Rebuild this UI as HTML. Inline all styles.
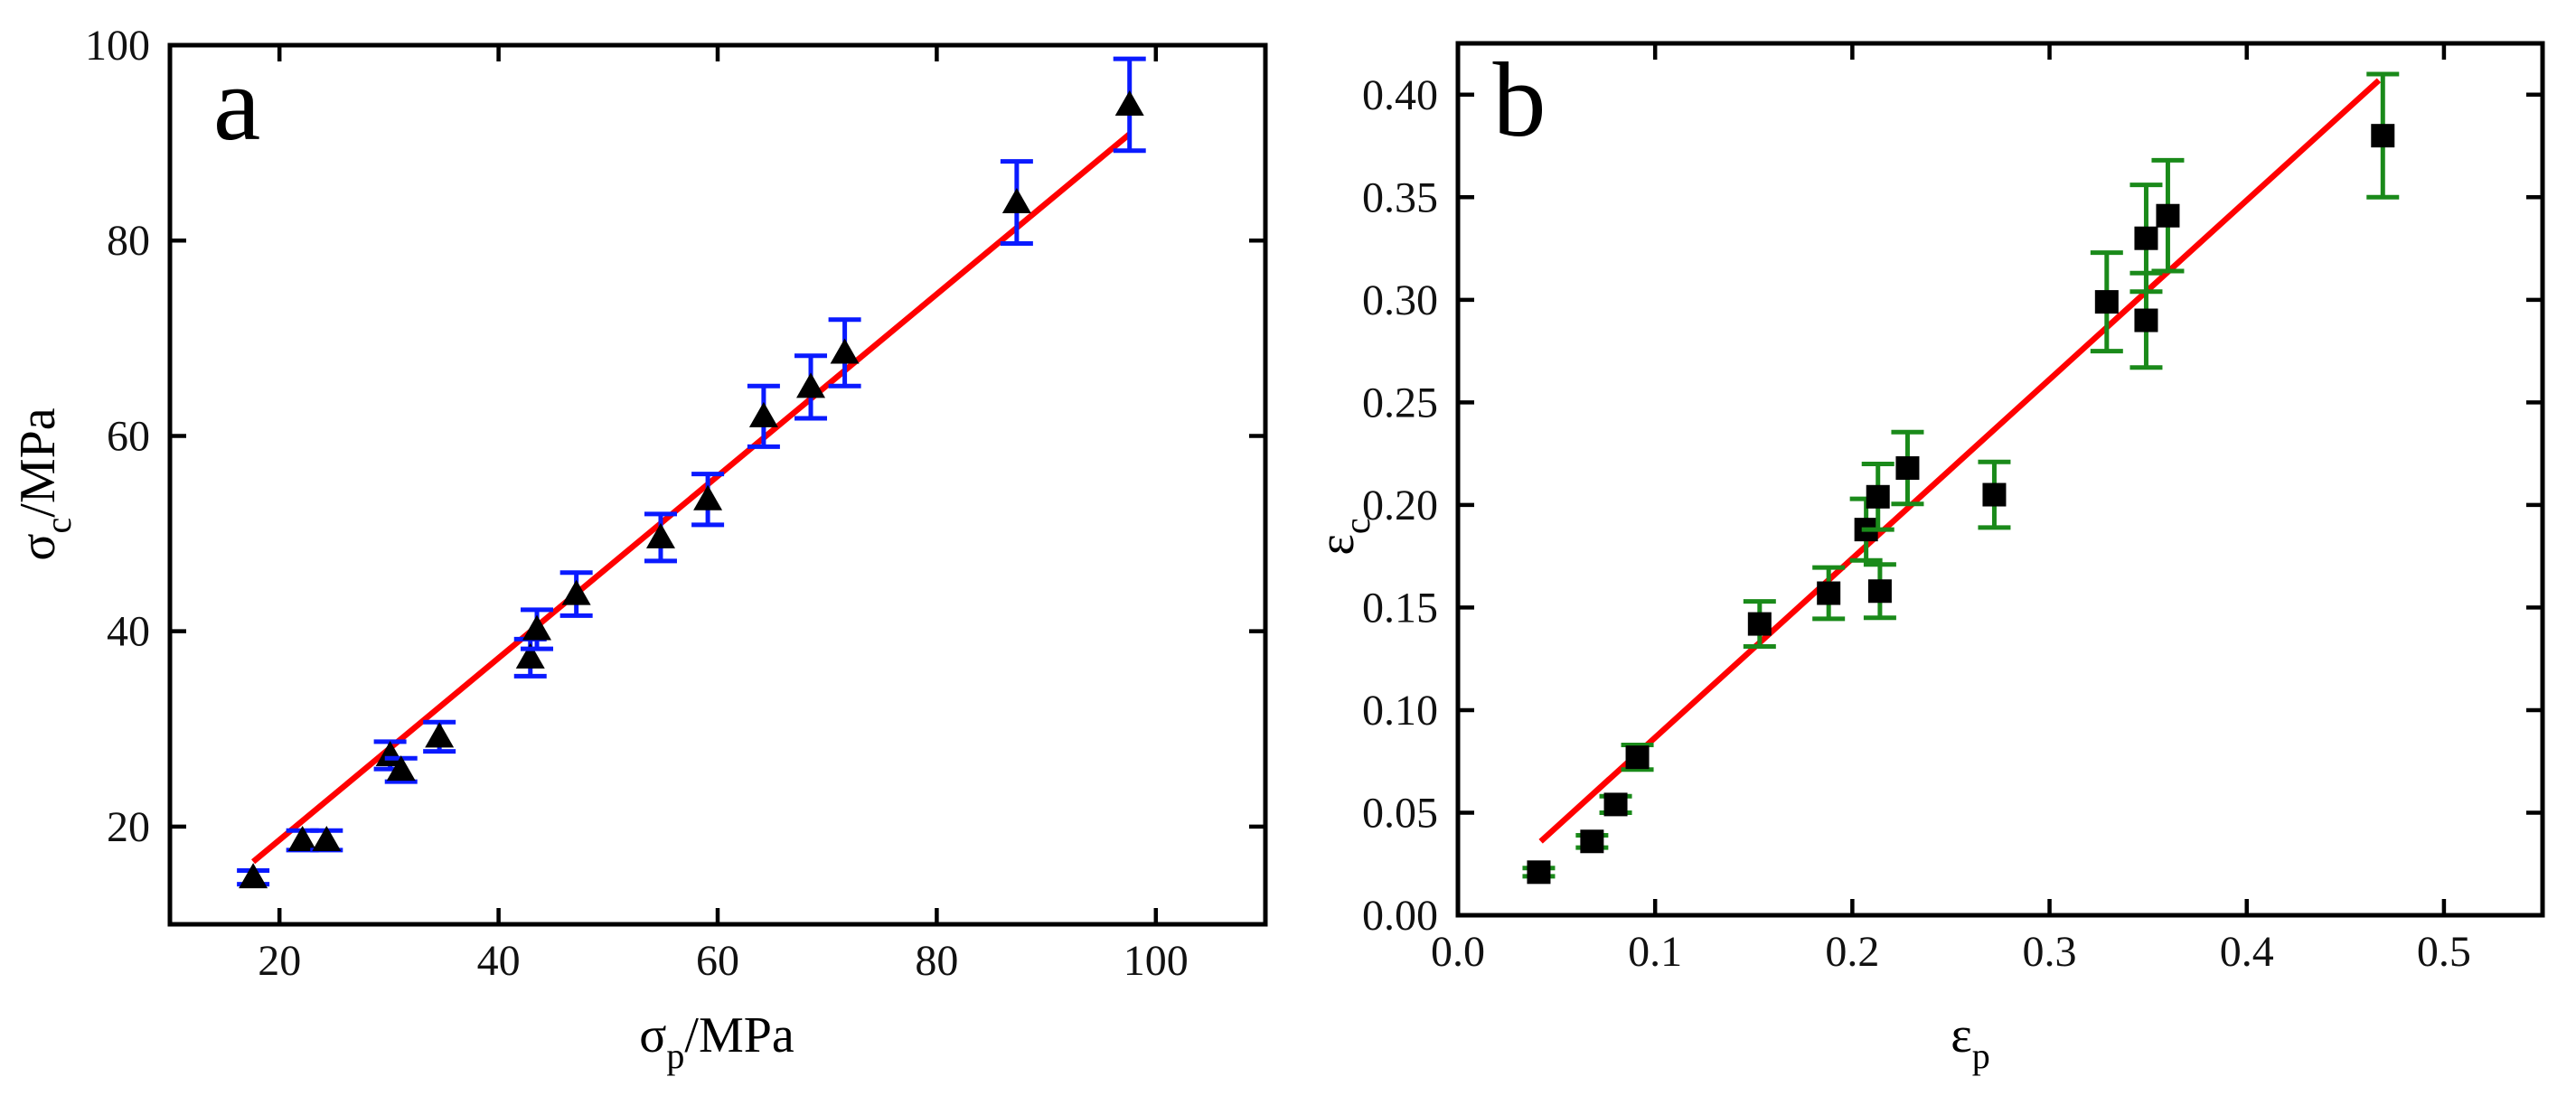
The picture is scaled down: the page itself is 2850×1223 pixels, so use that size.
<!DOCTYPE html>
<html><head><meta charset="utf-8"><style>
html,body{margin:0;padding:0;background:#fff;}
svg{display:block;font-family:"Liberation Serif",serif;}
</style></head><body>
<svg id="chart" width="2850" height="1223" viewBox="0 0 2850 1223" xmlns="http://www.w3.org/2000/svg"></svg>
<script>
// Panel a data
const aX = [17.6,22.1,24.3,30.1,31.1,34.6,42.9,43.5,47.1,54.8,59.1,64.2,68.5,71.6,87.3,97.6];
const aY = [14.8,18.6,18.6,27.3,25.8,29.2,37.3,40.2,43.8,49.6,53.5,62.0,65.0,68.5,83.9,93.9];
const aErr = [0.7,1.0,1.0,1.4,1.2,1.5,1.9,2.0,2.2,2.4,2.6,3.1,3.2,3.4,4.2,4.7];
const aFitX = [17.6,97.6];
const aFitY = [16.4,90.9];
const aXTicks = [20,40,60,80,100];
const aYTicks = [20,40,60,80,100];
// Panel b data
const bX = [0.041,0.068,0.080,0.091,0.153,0.188,0.207,0.213,0.214,0.228,0.272,0.329,0.349,0.349,0.360,0.469];
const bY = [0.021,0.036,0.054,0.077,0.142,0.157,0.188,0.204,0.158,0.218,0.205,0.299,0.330,0.290,0.341,0.380];
const bErr = [0.002,0.003,0.004,0.006,0.011,0.0125,0.015,0.016,0.013,0.0175,0.016,0.024,0.026,0.023,0.027,0.030];
const bFitX = [0.042,0.467];
const bFitY = [0.036,0.407];
const bXTicks = [0.0,0.1,0.2,0.3,0.4,0.5];
const bXLabels = ["0.0","0.1","0.2","0.3","0.4","0.5"];
const bYTicks = [0,0.05,0.10,0.15,0.20,0.25,0.30,0.35,0.40];
const bYLabels = ["0.00","0.05","0.10","0.15","0.20","0.25","0.30","0.35","0.40"];

const NS="http://www.w3.org/2000/svg";
const svg=document.getElementById('chart');
function mk(tag,attrs,parent){const e=document.createElementNS(NS,tag);for(const k in attrs)e.setAttribute(k,attrs[k]);(parent||svg).appendChild(e);return e;}

function panel(o){
  const g=mk('g',{});
  
  
  const sx=v=>o.L+(v-o.x0)/(o.x1-o.x0)*(o.R-o.L);
  const sy=v=>o.B-(v-o.y0)/(o.y1-o.y0)*(o.B-o.T);
  o.xt.forEach((v,i)=>{
    const x=sx(v);
    const t=mk('line',{x1:x,x2:x,y1:o.B,y2:o.B-18,stroke:'#000','stroke-width':4.5},g);
    
    
    mk('line',{x1:x,x2:x,y1:o.T,y2:o.T+18,stroke:'#000','stroke-width':4.5},g);
    const tx=mk('text',{x:x,y:o.B+56,'font-size':48,'text-anchor':'middle',fill:'#111'},g);
    tx.textContent=o.xl[i];
    
    
  });
  o.yt.forEach((v,i)=>{
    const y=sy(v);
    const t=mk('line',{x1:o.L,x2:o.L+18,y1:y,y2:y,stroke:'#000','stroke-width':4.5},g);
    
    
    mk('line',{x1:o.R,x2:o.R-18,y1:y,y2:y,stroke:'#000','stroke-width':4.5},g);
    const tx=mk('text',{x:o.L-22,y:y+16,'font-size':48,'text-anchor':'end',fill:'#111'},g);
    tx.textContent=o.yl[i];
    
    
  });
  const fl=mk('line',{x1:sx(o.fx[0]),y1:sy(o.fy[0]),x2:sx(o.fx[1]),y2:sy(o.fy[1]),stroke:'#f00','stroke-width':6.5},g);
  
  
  o.X.forEach((v,i)=>{
    const x=sx(v),y=sy(o.Y[i]),yt=sy(o.Y[i]+o.E[i]),yb=sy(o.Y[i]-o.E[i]);
    const eg=mk('g',{stroke:o.ec,'stroke-width':5},g);
    
    
    mk('line',{x1:x,x2:x,y1:yt,y2:yb},eg);
    mk('line',{x1:x-18,x2:x+18,y1:yt,y2:yt},eg);
    mk('line',{x1:x-18,x2:x+18,y1:yb,y2:yb},eg);
    let m;
    if(o.marker==='tri'){
      m=mk('polygon',{points:`${x},${y-16} ${x-16},${y+12} ${x+16},${y+12}`,fill:'#000'},g);
    } else {
      m=mk('rect',{x:x-13,y:y-13,width:26,height:26,fill:'#000'},g);
    }
    
    
  });
  const fr=mk('rect',{x:o.L,y:o.T,width:o.R-o.L,height:o.B-o.T,fill:'none',stroke:'#000','stroke-width':5},g);
  
  
  return g;
}
panel({name:'panel-a',L:188,R:1400,T:50,B:1023,x0:10,x1:110,y0:10,y1:100,xt:aXTicks,xl:aXTicks.map(String),yt:aYTicks,yl:aYTicks.map(String),X:aX,Y:aY,E:aErr,fx:aFitX,fy:aFitY,ec:'#0a1aff',marker:'tri'});
panel({name:'panel-b',L:1613,R:2813,T:48,B:1013,x0:0,x1:0.55,y0:0,y1:0.425,xt:bXTicks,xl:bXLabels,yt:bYTicks,yl:bYLabels,X:bX,Y:bY,E:bErr,fx:bFitX,fy:bFitY,ec:'#1a8a1a',marker:'sq'});
</script>
<svg style="position:absolute;left:0;top:0" width="2850" height="1223" xmlns="http://www.w3.org/2000/svg" font-family="Liberation Serif, serif">
  <text x="262" y="154" font-size="118" text-anchor="middle">a</text>
  <text x="1681" y="150" font-size="118" text-anchor="middle">b</text>
  <text x="793" y="1164" font-size="56" text-anchor="middle">σ<tspan font-size="40" dy="18">p</tspan><tspan dy="-18">/MPa</tspan></text>
  <text transform="translate(60,536) rotate(-90)" font-size="56" text-anchor="middle">σ<tspan font-size="40" dy="18">c</tspan><tspan dy="-18">/MPa</tspan></text>
  <text x="2180" y="1164" font-size="56" text-anchor="middle">ε<tspan font-size="40" dy="18">p</tspan></text>
  <text transform="translate(1497,594) rotate(-90)" font-size="56" text-anchor="middle">ε<tspan font-size="40" dy="18">c</tspan></text>
</svg>
</body></html>
